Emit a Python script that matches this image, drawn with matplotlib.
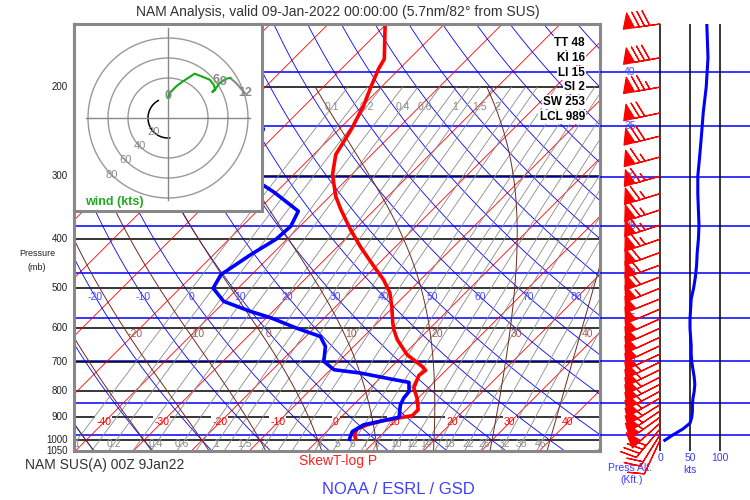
import numpy as np
import matplotlib
matplotlib.use("Agg")
import matplotlib.pyplot as plt

plt.rcParams["font.family"] = ["Liberation Sans", "DejaVu Sans"]

# ---- sounding (mb, deg C) ----
t_pres = [1002, 975, 950, 932, 914, 902, 894, 870, 825, 788, 744, 727, 714, 677, 632, 604, 585,
          544, 510, 481, 453, 415, 383, 349, 329, 298, 272, 242, 218, 199, 184, 176, 150]
t_temp = [6.7, 5.3, 4.8, 5.8, 7.9, 10.3, 12.0, 12.0, 9.8, 7.5, 6.2, 6.5, 5.2, 0.6, -3.7, -6.0, -7.4,
          -10.3, -13.1, -16.4, -20.3, -25.9, -30.7, -35.9, -39.0, -43.3, -46.2, -47.9, -49.8, -51.9, -53.6, -54.3, -60.2]
td_pres = [1004, 990, 961, 932, 908, 900, 851, 825, 801, 768, 756, 736, 725, 698, 652, 623, 600,
           572, 556, 531, 500, 470, 429, 400, 377, 352, 323, 301, 275, 242, 202, 174, 151]
td_temp = [5.6, 5.1, 4.4, 5.2, 8.8, 10.0, 8.1, 7.5, 7.3, 5.7, 1.9, -4.3, -9.4, -12.6, -14.9, -17.5, -23.0,
           -29.3, -33.8, -40.2, -44.3, -45.3, -43.6, -41.9, -41.6, -42.9, -50.3, -57.1, -60.3, -63.1, -75.2, -82.1, -83.4]

# winds (25 mb levels)
w_pres = [150, 175, 200, 225, 250, 275, 300, 325, 350, 375, 400, 425, 450, 475, 500, 525, 550, 575,
          600, 625, 650, 675, 700, 725, 750, 775, 800, 825, 850, 875, 900, 925, 950, 975, 1000]
w_spd = [78, 80, 77, 72, 69, 66, 63, 63, 64, 65, 64, 62, 61, 59, 56, 52, 51, 50,
         50, 51, 52, 52, 53, 55, 57, 58, 57, 55, 54, 54, 53, 50, 38, 22, 8]
w_dir = [262, 260, 260, 258, 256, 255, 254, 253, 252, 252, 251, 250, 250, 249, 248, 248, 247, 246,
         246, 245, 245, 245, 244, 244, 243, 243, 242, 240, 238, 236, 234, 228, 220, 212, 205]

# hodograph (kts)
hodo_u = [0, 1.7, 8.3, 15, 26.7, 33.3, 41.7, 45.7, 47.3, 44.3, 48, 51.7, 58.3, 62.3]
hodo_v = [20, 25, 31.7, 36.7, 44.3, 41.7, 38.3, 33.3, 28.3, 26, 30, 35, 39.3, 40]
hodo_u2 = [62.3, 68, 77]
hodo_v2 = [40, 35, 25]
hodo_lab = ["0", "6", "9", "12"]
hodo_lab_u = [0, 48, 55, 77]
hodo_lab_v = [22, 38, 36, 25]
rings = [40, 60, 80]
ring_labels = [20, 40, 60, 80]

idx_names = ["TT", "KI", "LI", "SI", "SW", "LCL"]
idx_vals = [48, 16, 15, 2, 253, 989]

p_lines = [200, 300, 400, 500, 600, 700, 800, 900, 1000]
p_labels = [200, 300, 400, 500, 600, 700, 800, 900, 1000, 1050]
alt_kft = [40, 35, 30, 25, 20, 15, 10, 5, 1]
isotherm_lab = [-40, -30, -20, -10, 0, 10, 20, 30, 40]
dry_lab = [-20, -10, 0, 10, 20, 30, 40, 50, 60, 70, 80]
moist_lab = [-20, -10, 0, 10, 20, 30, 40]
mr_lines = [0.1, 0.15, 0.2, 0.3, 0.4, 0.6, 0.8, 1, 1.2, 1.5, 2, 2.5, 3, 4, 5, 6, 7, 8,
            10, 12, 14, 16, 18, 22, 26, 32, 38, 46]
mr_lab_bottom = [0.1, 0.2, 0.4, 0.6, 1, 1.5, 2, 4, 5, 6, 7, 8, 10, 12, 14, 18, 22, 26, 32, 38, 46]
mr_lab_top = [0.1, 0.2, 0.4, 0.6, 1, 1.5, 2]

# ---- geometry (pixel layout of the original) ----
W, H = 750, 500
LEFT, RIGHT, TOP, BOT = 74, 600, 24, 451
X0, PXC = 318, 5.8          # x pixel of 0C at 1000 mb, px per deg C
K = (BOT - TOP) / np.log(1050 / 150) / PXC


def box(x0, y0, x1, y1):
    return [x0 / W, 1 - y1 / H, (x1 - x0) / W, (y1 - y0) / H]


def skx(t, p):
    return np.asarray(t, float) + K * np.log(1000.0 / np.asarray(p, float))


def td_from_w(w, p):
    e = w * p / (622.0 + w)
    a = np.log(e / 6.112)
    return 243.5 * a / (17.67 - a)


def dtdp(tc, p):
    tk = tc + 273.15
    es = 6.112 * np.exp(17.67 * tc / (tc + 243.5))
    rs = 0.622 * es / (p - es)
    return (287.04 * tk + 2.501e6 * rs) / (p * (1005.7 + 2.501e6 ** 2 * rs * 0.622 / (287.04 * tk ** 2)))


def moist_line(thw, pg):
    T = np.empty_like(pg)
    i0 = int(np.argmin(np.abs(pg - 1000)))
    T[i0] = thw
    for i in range(i0, len(pg) - 1):
        dp = pg[i + 1] - pg[i]
        k1 = dtdp(T[i], pg[i]); k2 = dtdp(T[i] + k1 * dp, pg[i] + dp)
        T[i + 1] = T[i] + 0.5 * (k1 + k2) * dp
    for i in range(i0, 0, -1):
        dp = pg[i - 1] - pg[i]
        k1 = dtdp(T[i], pg[i]); k2 = dtdp(T[i] + k1 * dp, pg[i] + dp)
        T[i - 1] = T[i] + 0.5 * (k1 + k2) * dp
    return T


def p_from_kft(h):
    return 1013.25 * (1 - 2.25577e-5 * h * 304.8) ** 5.25588


RED, BLUE, BROWN, GRAY = "#ff0000", "#0000ff", "#6e2a1e", "#8a8a8a"

fig = plt.figure(figsize=(7.5, 5), dpi=100)
fig.patch.set_facecolor("white")

# ── main skew-T ──
ax = fig.add_axes(box(LEFT, TOP, RIGHT, BOT))
ax.set_yscale("log")
ax.set_ylim(1050, 150)
ax.set_xlim((LEFT - X0) / PXC, (RIGHT - X0) / PXC)
ax.tick_params(which="both", left=False, labelleft=False, bottom=False, labelbottom=False)
for s in ax.spines.values():
    s.set_color("#888888"); s.set_linewidth(2.2); s.set_zorder(20)

pf = np.geomspace(1050, 150, 200)
for t in range(-170, 60, 10):
    ax.plot(skx(t, pf), pf, color=RED, lw=0.6, zorder=3)
for th in range(-40, 240, 10):
    tt = (th + 273.15) * (pf / 1000.0) ** 0.2857 - 273.15
    ax.plot(skx(tt, pf), pf, color=BLUE, lw=0.6, zorder=3)
pm = np.geomspace(1050, 200, 120)
for w in mr_lines:
    ax.plot(skx(td_from_w(w, pm), pm), pm, color=GRAY, lw=0.6, zorder=3)
pg = np.arange(1050.0, 198.0, -2.0)
for thw in range(-40, 50, 10):
    ax.plot(skx(moist_line(thw, pg), pg), pg, color=BROWN, lw=0.7, zorder=3)

for p in p_lines:
    ax.axhline(p, color="black", lw=1.1, zorder=2.2)
for h in alt_kft:
    ax.axhline(p_from_kft(h), color=BLUE, lw=1.1, zorder=2)

for t in isotherm_lab:
    ax.text(skx(t, 922), 922, str(t), color=RED, fontsize=7.5, ha="center", va="center", zorder=2.5,
            clip_on=True, bbox=dict(boxstyle="square,pad=0.1", fc="white", ec="none"))
for th in dry_lab:
    tt = (th + 273.15) * (520 / 1000.0) ** 0.2857 - 273.15
    ax.text(skx(tt, 520), 520, str(th), color="#4a4aff", fontsize=7.5, ha="center", va="center",
            zorder=4, clip_on=True)
pml = np.arange(1050.0, 614.0, -2.0)
for thw in moist_lab:
    tt = moist_line(thw, pml)[-1]
    ax.text(skx(tt, 616) + 1.2, 616, str(thw), color="#a05a50", fontsize=7.5, ha="center", va="center",
            zorder=4, clip_on=True)
for w in mr_lab_bottom:
    ax.text(skx(td_from_w(w, 1017), 1017), 1017, f"{w:g}", color=GRAY, fontsize=7.5, ha="center",
            va="center", zorder=4, clip_on=True)
for w in mr_lab_top:
    ax.text(skx(td_from_w(w, 219), 219), 219, f"{w:g}", color=GRAY, fontsize=7.5, ha="center",
            va="center", zorder=4, clip_on=True)

ax.plot(skx(t_temp, t_pres), t_pres, color=RED, lw=2.6, zorder=8, solid_capstyle="butt")
ax.plot(skx(td_temp, td_pres), td_pres, color=BLUE, lw=2.6, zorder=8, solid_capstyle="butt")

ytr = ax.get_yaxis_transform()
for p in p_labels:
    ax.text(-0.012, p, str(p), transform=ytr, ha="right", va="center", fontsize=7, color="#222222")

# ── right panel: press alt, barbs, speed ──
axr = fig.add_axes(box(RIGHT, TOP, W, BOT))
axr.set_yscale("log")
axr.set_ylim(1050, 150)
axr.set_xlim(-100, 150)
axr.axis("off")
for h in alt_kft:
    pa = p_from_kft(h)
    axr.axhline(pa, color=BLUE, lw=1.1, zorder=2)
    axr.text(-50, pa, str(h), color="#4a4aff", fontsize=7.5, ha="center", va="center", zorder=3)
for xv in [0, 50, 100]:
    axr.axvline(xv, color="black", lw=1.1, zorder=2)
ws = np.array(w_spd, float); wd = np.radians(w_dir)
u = -ws * np.sin(wd); v = -ws * np.cos(wd)
axr.barbs(np.zeros(len(w_pres)), w_pres, u, v, color=RED, length=7.3, lw=0.9, zorder=5,
          clip_on=False, sizes=dict(spacing=0.14, height=0.42, width=0.3))
axr.plot(w_spd, w_pres, color=BLUE, lw=2.2, zorder=6)

fig.text(660 / W, 1 - 458 / H, "0", color="#3a3aff", fontsize=7.5, ha="center", va="center")
fig.text(690 / W, 1 - 458 / H, "50", color="#3a3aff", fontsize=7.5, ha="center", va="center")
fig.text(720 / W, 1 - 458 / H, "100", color="#3a3aff", fontsize=7.5, ha="center", va="center")
fig.text(690 / W, 1 - 470 / H, "kts", color="#3a3aff", fontsize=7.5, ha="center", va="center")
fig.text(630 / W, 1 - 468 / H, "Press Alt.", color="#3a3aff", fontsize=7.5, ha="center", va="center")
fig.text(632 / W, 1 - 480 / H, "(Kft.)", color="#3a3aff", fontsize=7.5, ha="center", va="center")

# ── hodograph inset ──
axh = fig.add_axes(box(74, 24, 262, 211))
axh.set_xlim(-94, 94); axh.set_ylim(-93, 94)
axh.set_facecolor("white")
axh.set_xticks([]); axh.set_yticks([])
for s in axh.spines.values():
    s.set_color("#888888"); s.set_linewidth(2.2)
ang = np.linspace(0, 2 * np.pi, 200)
for r in rings:
    axh.plot(r * np.cos(ang), r * np.sin(ang), color="#999999", lw=1.0)
arc = np.radians(np.linspace(119, 275, 80))
axh.plot(20 * np.cos(arc), 20 * np.sin(arc), color="black", lw=1.1)
axh.plot([-82, 82], [0, 0], color="#888888", lw=1.0)
axh.plot([0, 0], [-82, 90], color="#888888", lw=1.0)
for r in ring_labels:
    axh.text(-r * 0.707, -r * 0.707, str(r), color="#888888", fontsize=8, ha="center", va="center")
axh.plot(hodo_u2, hodo_v2, color="#888888", lw=1.5)
axh.plot(hodo_u, hodo_v, color="#11aa11", lw=1.5)
for lab, hu, hv in zip(hodo_lab, hodo_lab_u, hodo_lab_v):
    axh.text(hu, hv, lab, color="#888888", fontsize=9, fontweight="bold", ha="center", va="center")
fig.text(85 / W, 1 - 202 / H, "wind (kts)", color="#22aa22", fontsize=9, fontweight="bold", va="center")

# ── indices ──
idx_y = [43, 58, 73, 87, 102, 117]
for n, val, yy in zip(idx_names, idx_vals, idx_y):
    fig.text(585 / W, 1 - yy / H, f"{n} {val}", ha="right", va="center", fontsize=8.5, fontweight="bold",
             color="black", bbox=dict(boxstyle="square,pad=0.12", fc="white", ec="none"))

# ── captions ──
fig.text(338 / W, 1 - 12 / H, "NAM Analysis, valid 09-Jan-2022 00:00:00 (5.7nm/82\u00b0 from SUS)",
         ha="center", va="center", fontsize=10, color="#333333")
fig.text(37 / W, 1 - 253 / H, "Pressure", ha="center", va="center", fontsize=6.5, color="#222222")
fig.text(37 / W, 1 - 268 / H, "(mb)", ha="center", va="center", fontsize=6.5, color="#222222")
fig.text(25 / W, 1 - 465 / H, "NAM SUS(A) 00Z 9Jan22", ha="left", va="center", fontsize=10, color="#333333")
fig.text(338 / W, 1 - 461 / H, "SkewT-log P", ha="center", va="center", fontsize=10, color="#ff2020")
fig.text(398 / W, 1 - 490 / H, "NOAA / ESRL / GSD", ha="center", va="center", fontsize=12, color="#4040ff")

fig.savefig("out.png", dpi=100, facecolor="white")
